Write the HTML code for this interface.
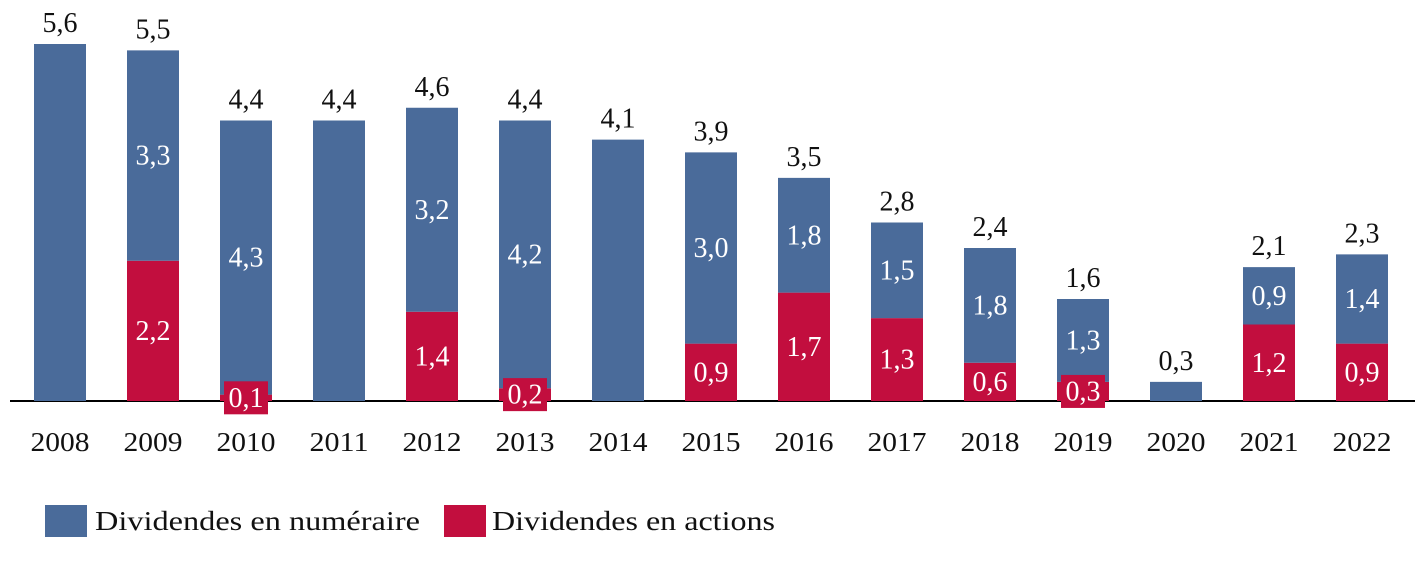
<!DOCTYPE html>
<html><head><meta charset="utf-8"><style>
body{margin:0;background:#fff;width:1423px;height:556px;overflow:hidden}
svg text{font-family:"Liberation Serif",serif}
</style></head><body>
<svg id="c" width="1423" height="556">
<line x1="10" y1="401" x2="1415" y2="401" stroke="#000" stroke-width="2"/>
<g id="bars"></g>
<g>
<rect x="45" y="505" width="42" height="32" fill="#4a6b9a"/>
<text x="95" y="530" font-size="27" textLength="325" lengthAdjust="spacingAndGlyphs" fill="#111">Dividendes en numéraire</text>
<rect x="444" y="505" width="42" height="32" fill="#c20e3e"/>
<text x="492" y="530" font-size="27" textLength="283" lengthAdjust="spacingAndGlyphs" fill="#111">Dividendes en actions</text>
</g>
</svg>
<script>
const years=["2008","2009","2010","2011","2012","2013","2014","2015","2016","2017","2018","2019","2020","2021","2022"];
const cash=[5.6,3.3,4.3,4.4,3.2,4.2,4.1,3.0,1.8,1.5,1.8,1.3,0.3,0.9,1.4];
const shares=[0,2.2,0.1,0,1.4,0.2,0,0.9,1.7,1.3,0.6,0.3,0,1.2,0.9];
const totals=[5.6,5.5,4.4,4.4,4.6,4.4,4.1,3.9,3.5,2.8,2.4,1.6,0.3,2.1,2.3];
const NS="http://www.w3.org/2000/svg";
const base=401,scale=63.75,x0=60,step=93,bw=52;
const xc=i=>x0+i*step, yv=v=>base-v*scale;
const fmt=v=>v.toFixed(1).replace('.',',');
const g=document.getElementById('bars');
function mk(tag,attrs){const e=document.createElementNS(NS,tag);for(const k in attrs)e.setAttribute(k,attrs[k]);g.appendChild(e);return e;}
years.forEach((yr,i)=>{
  const cx=xc(i),s=shares[i],c=cash[i],t=totals[i];
  const both=s>0&&c>0;
  const sTop=yv(s);
  if(s>0){const r=mk('rect',{x:cx-bw/2,y:sTop,width:bw,height:base-sTop,fill:'#c20e3e'});
    
    }
  const top=yv(t);
  const b=mk('rect',{x:cx-bw/2,y:top,width:bw,height:sTop-top,fill:'#4a6b9a'});
  
  
  const tl=mk('text',{x:cx,y:top-12,'font-size':28,'text-anchor':'middle',textLength:35,lengthAdjust:'spacingAndGlyphs',fill:'#111'});
  tl.textContent=fmt(t);
  
  
  if(both){
    const cy=(top+sTop)/2;
    const cl=mk('text',{x:cx,y:cy+9,'font-size':28,'text-anchor':'middle',textLength:35,lengthAdjust:'spacingAndGlyphs',fill:'#fff'});
    cl.textContent=fmt(c);
    
    
    const sy=(sTop+base)/2;
    if(s<0.5){const bx=mk('rect',{x:cx-22,y:sy-16.5,width:44,height:33,fill:'#c20e3e'});
      
      }
    const sl=mk('text',{x:cx,y:sy+9,'font-size':28,'text-anchor':'middle',textLength:35,lengthAdjust:'spacingAndGlyphs',fill:'#fff'});
    sl.textContent=fmt(s);
    
    
  }
  const xl=mk('text',{x:cx,y:451,'font-size':27,'text-anchor':'middle',textLength:59,lengthAdjust:'spacingAndGlyphs',fill:'#111'});
  xl.textContent=yr;
  
  
});
</script>
</body></html>
